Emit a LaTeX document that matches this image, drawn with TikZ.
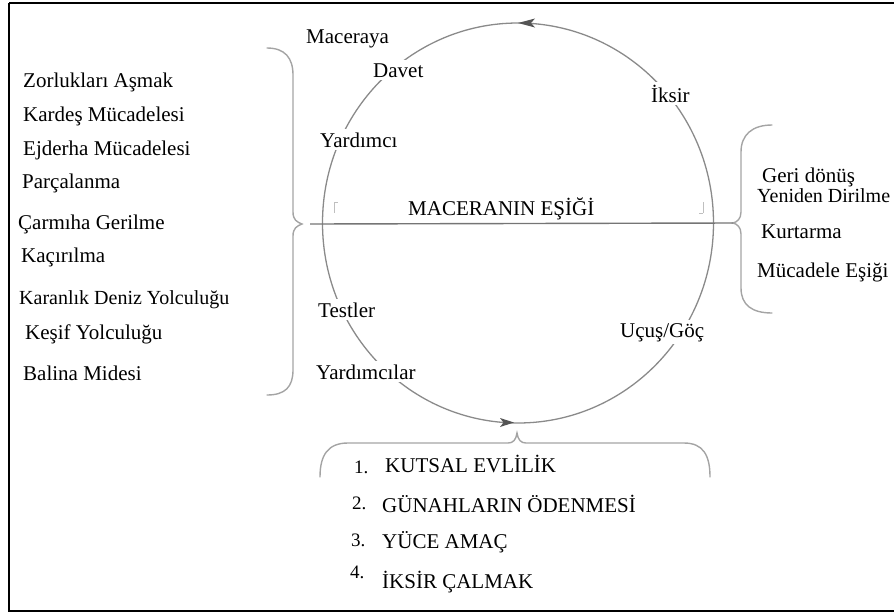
\documentclass[tikz,border=0pt]{standalone}
\usepackage{fontspec}
\setmainfont{Liberation Serif}
\usetikzlibrary{arrows.meta}
\definecolor{ringgray}{HTML}{8A8A8A}
\definecolor{bracegray}{HTML}{A4A4A4}
\definecolor{tipgray}{HTML}{555555}
\begin{document}
\begin{tikzpicture}[x=1pt,y=-1pt,
  lbl/.style={font=\fontsize{21}{24}\selectfont, inner sep=0pt, anchor=base west, text=black},
  slbl/.style={lbl, font=\fontsize{20}{24}\selectfont},
  onring/.style={lbl, fill=white, inner sep=3pt},
  numlbl/.style={font=\fontsize{19}{22}\selectfont, inner sep=0pt, anchor=base west, text=black},
  bracestyle/.style={draw=bracegray, line width=1.4pt, line cap=round},
  ringstyle/.style={draw=ringgray, line width=1.3pt},
  tipstyle/.style={draw=none, fill=tipgray}]
\useasboundingbox (0,0) rectangle (894,614);
\clip (0,0) rectangle (894,614);

% frame
\draw[line width=2pt] (9,3) -- (900,3);
\draw[line width=2pt] (9,3) -- (9,611) -- (900,611);

% the cycle
\draw[ringstyle] (518,223) ellipse [x radius=195.5, y radius=200];
\fill[tipstyle] (518,23) -- (535,18.5) -- (531,23) -- (535,27.5) -- cycle;
\fill[tipstyle] (514,422.5) -- (500,418) -- (503.5,422.5) -- (500,427) -- cycle;

% left brace
\draw[bracestyle] (267,48) .. controls (285,48) and (293,58) .. (293,75)
  -- (293,212) .. controls (293,220) and (297,222) .. (302,224)
  .. controls (297,226) and (293,228) .. (293,236)
  -- (293,370) .. controls (293,387) and (285,395) .. (267,395);
\coordinate (ltip) at (302,224);

% right brace
\draw[bracestyle] (772,125) .. controls (752,125) and (741,135) .. (741,152)
  -- (741,212) .. controls (741,219) and (737,222) .. (733,223)
  .. controls (737,224) and (741,227) .. (741,234)
  -- (741,288) .. controls (741,305) and (752,313) .. (772,313);
\coordinate (rtip) at (733,223);

% bottom brace
\draw[bracestyle] (320,477) .. controls (320,455) and (328,443) .. (348,443)
  -- (508,443) .. controls (513,443) and (516,440) .. (517,433)
  .. controls (518,440) and (521,443) .. (526,443)
  -- (684,443) .. controls (703,443) and (710,455) .. (710,477);

% threshold line
\draw[draw=ringgray!85!black, line width=1.4pt] (ltip) ++(8,0) coordinate (lstart) (lstart) -- (rtip);

% small anchor marks beside the threshold title
\draw[bracegray!70, line width=0.8pt] (334,202) -- (334,213) (334,202) -- (338,202);
\draw[bracegray!70, line width=0.8pt] (703,202) -- (703,213) (703,213) -- (699,213);

% labels on and around the cycle
\node[lbl] (mac) at (306,43) {Maceraya};
\node[onring] (davet) at (370,77) {Davet};
\node[onring] (iksir) at (648,102) {İksir};
\node[onring] (yard) at (317,147) {Yardımcı};
\node[lbl] (esik) at (408,215) {MACERANIN EŞİĞİ};
\node[onring] (test) at (315,317) {Testler};
\node[onring] (yardlar) at (313,379) {Yardımcılar};
\node[onring] (ucus) at (617,337) {Uçuş/Göç};

% left list
\node[lbl] (l1) at (23,87) {Zorlukları Aşmak};
\node[lbl] (l2) at (23,121) {Kardeş Mücadelesi};
\node[lbl] (l3) at (23,155) {Ejderha Mücadelesi};
\node[lbl] (l4) at (22,188) {Parçalanma};
\node[lbl] (l5) at (18,229) {Çarmıha Gerilme};
\node[lbl] (l6) at (21,262) {Kaçırılma};
\node[slbl] (l7) at (19,304) {Karanlık Deniz Yolculuğu};
\node[lbl] (l8) at (25,339) {Keşif Yolculuğu};
\node[lbl] (l9) at (23,380) {Balina Midesi};

% right list
\node[lbl] (r1) at (762,182) {Geri dönüş};
\node[slbl] (r2) at (757,202) {Yeniden Dirilme};
\node[lbl] (r3) at (761,238) {Kurtarma};
\node[lbl] (r4) at (757,277) {Mücadele Eşiği};

% bottom list
\node[numlbl] (n1) at (354,473) {1.};
\node[lbl] (b1) at (385,472) {KUTSAL EVLİLİK};
\node[numlbl] (n2) at (352,509) {2.};
\node[lbl] (b2) at (382,512) {GÜNAHLARIN ÖDENMESİ};
\node[numlbl] (n3) at (351,546) {3.};
\node[lbl] (b3) at (382,548) {YÜCE AMAÇ};
\node[numlbl] (n4) at (350,578) {4.};
\node[lbl] (b4) at (382,588) {İKSİR ÇALMAK};
\end{tikzpicture}
\end{document}
